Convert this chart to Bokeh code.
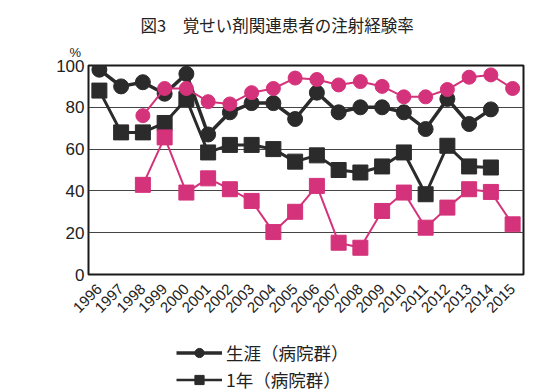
import math
from bokeh.plotting import figure
from bokeh.layouts import column
from bokeh.models import Range1d, Title, Legend, LegendItem, FixedTicker
from bokeh.embed import file_html
from bokeh.resources import INLINE

nan = float("nan")
years = list(range(1996, 2016))
year_labels = [str(y) for y in years]

life_hosp = [98, 90, 92, 86.5, 96, 67, 77.6, 82, 82, 74.4, 87, 77.6, 80, 80, 77.6, 69.6, 84, 72, 79, nan]
year_hosp = [88, 68, 68, 72.5, 84, 58.4, 62, 62, 60, 54, 57, 50, 48.8, 51.7, 58.4, 38.4, 61.6, 51.7, 51.2, nan]
life_other = [nan, nan, 76, 89, 89, 82.7, 81.6, 87, 89, 94, 93.3, 90.7, 92.3, 90, 85, 85, 88.5, 94.4, 95.5, 89]
year_other = [nan, nan, 42.9, 65.6, 39.2, 46, 40.8, 35.2, 20.3, 30, 42.4, 15.2, 12.8, 30.4, 39.2, 22.4, 32, 40.8, 39.5, 24]

title_text = "図3　覚せい剤関連患者の注射経験率"
legend_labels = ["生涯（病院群）", "1年（病院群）"]

BLACK = "#2b2b2b"
PINK = "#d4327a"
JP = "Noto Sans CJK JP"

p = figure(width=550, height=336, output_backend="svg", toolbar_location=None,
           x_range=Range1d(1995.5, 2015.5), y_range=Range1d(0, 100),
           min_border_left=88, min_border_right=27, min_border_top=65, min_border_bottom=62)
p.background_fill_color = "white"
p.border_fill_color = "white"
p.outline_line_color = "#1a1a1a"
p.outline_line_width = 2

p.title.text = title_text
p.title.text_font = JP
p.title.text_font_size = "16.5px"
p.title.text_font_style = "normal"
p.title.text_color = "#222222"
p.title.align = "left"
p.title.offset = 52
p.title.standoff = 0

pct = Title(text="%", text_font="Liberation Sans", text_font_size="13px",
            text_font_style="normal", text_color="#222222", align="left", offset=-19, standoff=12)
p.add_layout(pct, "above")

p.xgrid.grid_line_color = None
p.ygrid.grid_line_color = "#444444"
p.ygrid.grid_line_width = 1
p.ygrid.ticker = FixedTicker(ticks=[20, 40, 60, 80])

p.yaxis.ticker = FixedTicker(ticks=[0, 20, 40, 60, 80, 100])
p.yaxis.axis_line_color = None
p.yaxis.major_tick_line_color = None
p.yaxis.minor_tick_line_color = None
p.yaxis.major_tick_out = 0
p.yaxis.major_tick_in = 0
p.yaxis.minor_tick_out = 0
p.yaxis.major_label_text_font = "Liberation Sans"
p.yaxis.major_label_text_font_size = "17px"
p.yaxis.major_label_text_color = "#222222"
p.yaxis.major_label_standoff = 4

p.xaxis.ticker = FixedTicker(ticks=years)
p.xaxis.major_label_overrides = {y: s for y, s in zip(years, year_labels)}
p.xaxis.axis_line_color = None
p.xaxis.major_tick_line_color = None
p.xaxis.minor_tick_line_color = None
p.xaxis.major_tick_out = 0
p.xaxis.major_tick_in = 0
p.xaxis.minor_tick_out = 0
p.xaxis.major_label_orientation = math.pi / 4
p.xaxis.major_label_text_font = "Liberation Sans"
p.xaxis.major_label_text_font_size = "15px"
p.xaxis.major_label_text_color = "#222222"
p.xaxis.major_label_standoff = 12

p.line(years, life_hosp, line_color=BLACK, line_width=3.5)
p.scatter(years, life_hosp, marker="circle", size=15, fill_color=BLACK, line_color=BLACK)
p.line(years, year_hosp, line_color=BLACK, line_width=3)
p.scatter(years, year_hosp, marker="square", size=15, fill_color=BLACK, line_color=BLACK)
p.line(years, life_other, line_color=PINK, line_width=2)
p.scatter(years, life_other, marker="circle", size=14, fill_color=PINK, line_color=PINK)
p.line(years, year_other, line_color=PINK, line_width=2)
p.scatter(years, year_other, marker="square", size=15, fill_color=PINK, line_color=PINK)

# legend panel underneath (its renderers lie outside its visible range; only legend keys show)
lg = figure(width=550, height=56, output_backend="svg", toolbar_location=None,
            x_range=Range1d(0, 1), y_range=Range1d(0, 1),
            min_border_left=0, min_border_right=0, min_border_top=0, min_border_bottom=0)
lg.axis.visible = False
lg.grid.visible = False
lg.outline_line_color = None
lg.background_fill_color = "white"
lg.border_fill_color = "white"
e1 = lg.line(years, life_hosp, line_color=BLACK, line_width=3.5)
e1m = lg.scatter(years, life_hosp, marker="circle", size=13, fill_color=BLACK, line_color=BLACK)
e2 = lg.line(years, year_hosp, line_color=BLACK, line_width=2.5)
e2m = lg.scatter(years, year_hosp, marker="square", size=11, fill_color=BLACK, line_color=BLACK)

legend = Legend(items=[LegendItem(label=legend_labels[0], renderers=[e1, e1m]),
                       LegendItem(label=legend_labels[1], renderers=[e2, e2m])],
                location=(88, 0), orientation="vertical",
                label_text_font=JP, label_text_font_size="17.5px", label_text_color="#222222",
                glyph_width=46, glyph_height=23, label_height=23, spacing=2, padding=2,
                label_standoff=4, margin=0, border_line_color=None, background_fill_alpha=0)
lg.add_layout(legend, "center")

layout = column(p, lg, spacing=0)
open("out.html", "w").write(file_html(layout, INLINE))
